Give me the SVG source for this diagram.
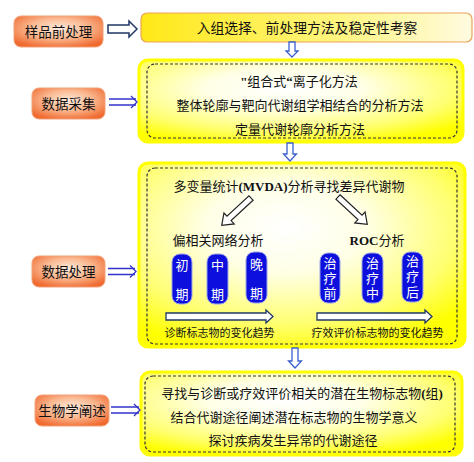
<svg xmlns="http://www.w3.org/2000/svg" width="474" height="462" viewBox="0 0 474 462">
<defs>
<radialGradient id="og" cx="50%" cy="40%" r="65%">
<stop offset="0" stop-color="#FEEBDD"/>
<stop offset="0.5" stop-color="#FAB890"/>
<stop offset="1" stop-color="#F06A30"/>
</radialGradient>
<linearGradient id="tg" x1="0" y1="0" x2="1" y2="0">
<stop offset="0" stop-color="#FFE817"/>
<stop offset="0.6" stop-color="#FFF580"/>
<stop offset="1" stop-color="#FFFBE0"/>
</linearGradient>
<radialGradient id="yg" cx="45%" cy="35%" r="70%">
<stop offset="0" stop-color="#FFFFFF"/>
<stop offset="0.35" stop-color="#FFFFE6"/>
<stop offset="0.75" stop-color="#FFFF70"/>
<stop offset="1" stop-color="#FFFF00"/>
</radialGradient>
<polygon id="diag" points="0,-3 30,-3 30,-7.5 40,0 30,7.5 30,3 0,3"/>
</defs>
<style>
text{font-family:"Liberation Serif","Noto Sans CJK SC",serif;font-size:13px;fill:#111;text-anchor:middle;dominant-baseline:central}
.lb rect{fill:url(#og);stroke:#F3A078;stroke-width:1}
.lb text{font-size:13.5px}
.outer{fill:url(#yg);stroke:#FFFF00;stroke-width:3}
.inner{fill:none;stroke:#333;stroke-width:1.2;stroke-dasharray:3 2}
.down{fill:#fff;stroke:#3A5FCD;stroke-width:1.3}
.dbl{fill:none;stroke:#3333CC;stroke-width:1.3}
.pill rect{fill:#0D10DD;stroke:#9AA4E8;stroke-width:1}
.pill text{fill:#fff}
.ha{fill:#fff;stroke:#1F3864;stroke-width:1.3}
.dg{fill:#fff;stroke:#222;stroke-width:1.2}
.b{font-weight:bold}
.sm{font-size:11px}
</style>

<g id="n-yangpin" class="lb"><rect x="14" y="16" width="89" height="31" rx="7"/><text x="58.5" y="32">样品前处理</text></g>
<g id="n-caiji" class="lb"><rect x="32" y="88" width="73" height="31" rx="7"/><text x="68.5" y="104">数据采集</text></g>
<g id="n-chuli" class="lb"><rect x="32" y="256" width="73" height="31" rx="7"/><text x="68.5" y="272">数据处理</text></g>
<g id="n-chanshu" class="lb"><rect x="35" y="395" width="74" height="31" rx="7"/><text x="72" y="411">生物学阐述</text></g>

<g id="n-top"><rect x="141" y="13" width="331" height="29" rx="6" fill="url(#tg)" stroke="#E9A45A" stroke-width="1.2"/><text x="307" y="28" style="font-size:13.8px">入组选择、前处理方法及稳定性考察</text></g>

<g id="n-box2"><rect class="outer" x="139" y="60" width="324" height="82" rx="9"/><rect class="inner" x="147" y="64" width="310" height="74" rx="8"/>
<text x="299" y="81"><tspan class="b">"</tspan>组合式<tspan class="b">“</tspan>离子化方法</text>
<text x="300" y="105">整体轮廓与靶向代谢组学相结合的分析方法</text>
<text x="300" y="129">定量代谢轮廓分析方法</text></g>

<g id="n-box3"><rect class="outer" x="139" y="163" width="326" height="184" rx="9"/><rect class="inner" x="147" y="168" width="310" height="176" rx="8"/>
<text x="289" y="186">多变量统计<tspan class="b">(MVDA)</tspan>分析寻找差异代谢物</text>
<text x="218" y="240">偏相关网络分析</text>
<text x="377" y="240"><tspan class="b">ROC</tspan>分析</text>
<text class="sm" x="219.5" y="333">诊断标志物的变化趋势</text>
<text class="sm" x="377.5" y="333">疗效评价标志物的变化趋势</text></g>

<g id="p-chuqi" class="pill"><rect x="172" y="254" width="20" height="50" rx="8"/><text x="182" y="265">初</text><text x="182" y="294">期</text></g>
<g id="p-zhongqi" class="pill"><rect x="207" y="254" width="21" height="50" rx="8"/><text x="217.5" y="265">中</text><text x="217.5" y="294">期</text></g>
<g id="p-wanqi" class="pill"><rect x="246" y="252" width="21" height="51" rx="8"/><text x="256.5" y="264">晚</text><text x="256.5" y="293">期</text></g>
<g id="p-qian" class="pill"><rect x="320" y="253" width="20" height="50" rx="8"/><text x="330" y="263">治</text><text x="330" y="278">疗</text><text x="330" y="293">前</text></g>
<g id="p-zhong" class="pill"><rect x="362" y="253" width="21" height="50" rx="8"/><text x="372.5" y="263">治</text><text x="372.5" y="278">疗</text><text x="372.5" y="293">中</text></g>
<g id="p-hou" class="pill"><rect x="402" y="252" width="21" height="50" rx="8"/><text x="412.5" y="261">治</text><text x="412.5" y="276">疗</text><text x="412.5" y="292">后</text></g>

<g id="n-box4"><rect class="outer" x="141" y="372" width="321" height="83" rx="9"/><rect class="inner" x="145" y="376" width="310" height="76" rx="8"/>
<text x="302" y="393">寻找与诊断或疗效评价相关的潜在生物标志物<tspan class="b">(</tspan>组<tspan class="b">)</tspan></text>
<text x="294" y="417">结合代谢途径阐述潜在标志物的生物学意义</text>
<text x="293" y="440">探讨疾病发生异常的代谢途径</text></g>

<g id="connectors">
<polygon class="ha" points="108,25 129,25 129,21 137,29 129,37 129,33 108,33" style="stroke-width:1.5"/>
<g class="dbl"><path d="M109,99 H136 M109,105 H136"/><polyline points="131,96 137,102 131,108"/></g>
<g class="dbl"><path d="M108,268.5 H135 M108,274.5 H135"/><polyline points="130,265.5 136,271.5 130,277.5"/></g>
<g class="dbl"><path d="M111,407 H139 M111,413 H139"/><polyline points="134,404 140,410 134,416"/></g>
<polygon class="down" points="289,42 295,42 295,51 298,51 292,57 286,51 289,51"/>
<polygon class="down" points="287,143 293,143 293,154 296.5,154 290,161 283.5,154 287,154"/>
<polygon class="down" points="292,348 298,348 298,361 301.5,361 295,368 288.5,361 292,361"/>
<use href="#diag" class="dg" transform="translate(251,198) rotate(137)"/>
<use href="#diag" class="dg" transform="translate(338,197) rotate(43)"/>
<polygon class="ha" points="166,313 266,313 266,310 273,316.5 266,323 266,320 166,320"/>
<polygon class="ha" points="317,313 425,313 425,310 432,316.5 425,323 425,320 317,320"/>
</g>
</svg>
